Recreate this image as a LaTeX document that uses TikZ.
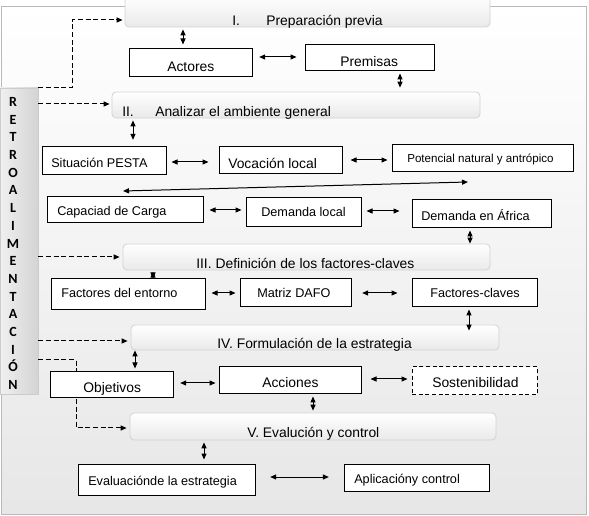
\documentclass[tikz,border=0pt]{standalone}
\usepackage{fontspec}
\setmainfont{Liberation Sans}
\newfontfamily\retrofont{Carlito}
\usetikzlibrary{arrows.meta,fit}
\begin{document}
\begin{tikzpicture}[x=0.75pt,y=-0.75pt,
  >={Triangle[length=4.5pt,width=3.8pt]},
  frame/.style={draw=gray!55, line width=0.6pt, top color=white, bottom color=gray!19, inner sep=0pt},
  retrobox/.style={draw=gray!40, line width=0.5pt, left color=gray!12, right color=gray!34, inner sep=0pt},
  bar/.style={draw=gray!35, line width=0.6pt, rounded corners=3pt, top color=white, bottom color=gray!17, inner sep=0pt},
  bx/.style={draw=black, line width=0.75pt, fill=white, inner sep=0pt},
  dbx/.style={bx, dash pattern=on 3pt off 2pt},
  lbl/.style={anchor=base west, inner sep=0pt, font=\fontsize{10.4pt}{12pt}\selectfont},
  slbl/.style={anchor=base west, inner sep=0pt, font=\fontsize{9.5pt}{11pt}\selectfont},
  plbl/.style={anchor=base west, inner sep=0pt, font=\fontsize{8.7pt}{10pt}\selectfont},
  rl/.style={anchor=base, inner sep=0pt, font=\fontsize{10.5pt}{12pt}\selectfont\retrofont\bfseries},
  conn/.style={<->, line width=0.75pt},
  dsh/.style={->, line width=0.75pt, dash pattern=on 3.75pt off 2pt}]
\useasboundingbox (0,0) rectangle (589,516);
% background frame
\node[frame, fit={(1,6)(586,514)}] (frame) {};
% feedback column
\node[retrobox, fit={(0,88)(38,394)}] (retro) {};
\foreach \c [count=\i from 0] in {R,E,T,R,O,A,L,I,M,E,N,T,A,C,I,Ó,N}
  \node[rl] (rl\i) at (13,{106.5+17.7*\i}) {\c};
% phase bars
\node[bar, fit={(125,-4)(490,27)}] (b1) {};
\node[bar, fit={(112,92)(480,118)}] (b2) {};
\node[bar, fit={(123,244)(490,270)}] (b3) {};
\node[bar, fit={(131,325)(499,350)}] (b4) {};
\node[bar, fit={(130,413)(496,440)}] (b5) {};
\node[lbl] (t1) at (232,25.5) {\makebox[25.5pt][l]{I.}Preparación previa};
\node[lbl] (t2) at (122,116.5) {\makebox[24.75pt][l]{II.}Analizar el ambiente general};
\node[lbl] (t3) at (196,268.5) {III. Definición de los factores-claves};
\node[lbl] (t4) at (217,348.5) {IV. Formulación de la estrategia};
\node[lbl] (t5) at (247,437.5) {V. Evalución y control};
% dashed feedback arrows
\draw[dsh, shorten >=1.5pt] (retro.north east) -| (72,20) -- (b1.west |- 0,20);
\draw[dsh, shorten >=1.5pt] (retro.east |- 0,104) -- (b2.west |- 0,104);
\draw[dsh, shorten >=2.25pt] (retro.east |- 0,257) -- (b3.west |- 0,257);
\draw[dsh, shorten >=2.25pt] (retro.east |- 0,341) -- (b4.west |- 0,341);
\draw[dsh, shorten >=2.25pt] (retro.east |- 0,360) -| (76,428) -- (b5.west |- 0,428);
% boxes
\node[bx, fit={(129,49)(252,77)}] (actores) {};
\node[bx, fit={(305,45)(434,71)}] (premisas) {};
\node[bx, fit={(42,147)(166,175)}] (pesta) {};
\node[bx, fit={(219,147)(342,174)}] (vocacion) {};
\node[bx, fit={(392,145)(573,172)}] (potencial) {};
\node[bx, fit={(47,197)(203,223)}] (capacidad) {};
\node[bx, fit={(246,198)(361,227)}] (dlocal) {};
\node[bx, fit={(412,200)(551,228)}] (dafrica) {};
\node[bx, fit={(51,279)(205,310)}] (entorno) {};
\node[bx, fit={(240,279)(351,307)}] (dafo) {};
\node[bx, fit={(412,279)(537,307)}] (fclaves) {};
\node[bx, fit={(50,372)(173,398)}] (objetivos) {};
\node[bx, fit={(219,367)(361,394)}] (acciones) {};
\node[dbx, fit={(412,367)(537,395)}] (sosten) {};
\node[bx, fit={(78,464)(255,495)}] (evalua) {};
\node[bx, fit={(344,464)(489,491)}] (aplica) {};
% box texts
\node[lbl] (tactores) at (167,72) {Actores};
\node[lbl] (tpremisas) at (340,67) {Premisas};
\node[slbl] (tpesta) at (51,168) {Situación PESTA};
\node[lbl] (tvocacion) at (228,169) {Vocación local};
\node[plbl] (tpotencial) at (407,163) {Potencial natural y antrópico};
\node[slbl] (tcapacidad) at (57,216) {Capaciad de Carga};
\node[slbl] (tdlocal) at (261,217) {Demanda local};
\node[slbl] (tdafrica) at (421,221) {Demanda en África};
\node[slbl] (tentorno) at (61,298) {Factores del entorno};
\node[slbl] (tdafo) at (257,298) {Matriz DAFO};
\node[slbl] (tfclaves) at (430,298) {Factores-claves};
\node[lbl] (tobjetivos) at (83,393) {Objetivos};
\node[lbl] (tacciones) at (262,387.5) {Acciones};
\node[lbl] (tsosten) at (432,388) {Sostenibilidad};
\node[slbl] (tevalua) at (88,485) {Evaluaciónde la estrategia};
\node[slbl] (taplica) at (354,483) {Aplicacióny control};
% solid connectors
\draw[conn, shorten <=1.5pt, shorten >=3pt] (b1.south -| 183,0) -- (actores.north -| 183,0);
\draw[conn, shorten <=5pt, shorten >=6pt] (actores.east |- 0,57) -- (premisas.west |- 0,57);
\draw[conn, shorten <=1.5pt, shorten >=3pt] (premisas.south -| 400,0) -- (b2.north -| 400,0);
\draw[conn, shorten <=1.5pt, shorten >=5pt] (b2.south -| 133,0) -- (pesta.north -| 133,0);
\draw[conn, shorten <=3.75pt, shorten >=7.5pt] (pesta.east |- 0,162) -- (vocacion.west |- 0,162);
\draw[conn, shorten <=6pt, shorten >=3pt] (vocacion.east |- 0,160) -- (potencial.west |- 0,160);
\coordinate (la) at (468,182);
\coordinate (lb) at (123,191);
\draw[conn] (la) -- (lb);
\draw[conn, shorten <=4.5pt, shorten >=3pt] (capacidad.east |- 0,210) -- (dlocal.west |- 0,210);
\draw[conn, shorten <=3.75pt, shorten >=9pt] (dlocal.east |- 0,211) -- (dafrica.west |- 0,211);
\draw[conn, shorten <=1.5pt] (dafrica.south -| 470,0) -- (b3.north -| 470,0);
\draw[conn, shorten <=1pt] (b3.south -| 153,0) -- (entorno.north -| 153,0);
\draw[conn, shorten <=4.5pt, shorten >=3pt] (entorno.east |- 0,293) -- (dafo.west |- 0,293);
\draw[conn, shorten <=8pt, shorten >=10.5pt] (dafo.east |- 0,293) -- (fclaves.west |- 0,293);
\draw[conn, shorten <=1.5pt, shorten >=-4.5pt] (fclaves.south -| 469,0) -- (b4.north -| 469,0);
\draw[conn, shorten >=2.25pt] (b4.south -| 135,0) -- (objetivos.north -| 135,0);
\draw[conn, shorten <=5pt, shorten >=2.25pt] (objetivos.east |- 0,383) -- (acciones.west |- 0,383);
\draw[conn, shorten <=6.75pt, shorten >=3pt] (acciones.east |- 0,379) -- (sosten.west |- 0,379);
\draw[conn, shorten <=1.5pt, shorten >=1.5pt] (acciones.south -| 313,0) -- (b5.north -| 313,0);
\draw[conn, shorten <=1.5pt, shorten >=3pt] (b5.south -| 204,0) -- (evalua.north -| 204,0);
\draw[conn, shorten <=11pt, shorten >=11pt] (evalua.east |- 0,477) -- (aplica.west |- 0,477);
\end{tikzpicture}
\end{document}
